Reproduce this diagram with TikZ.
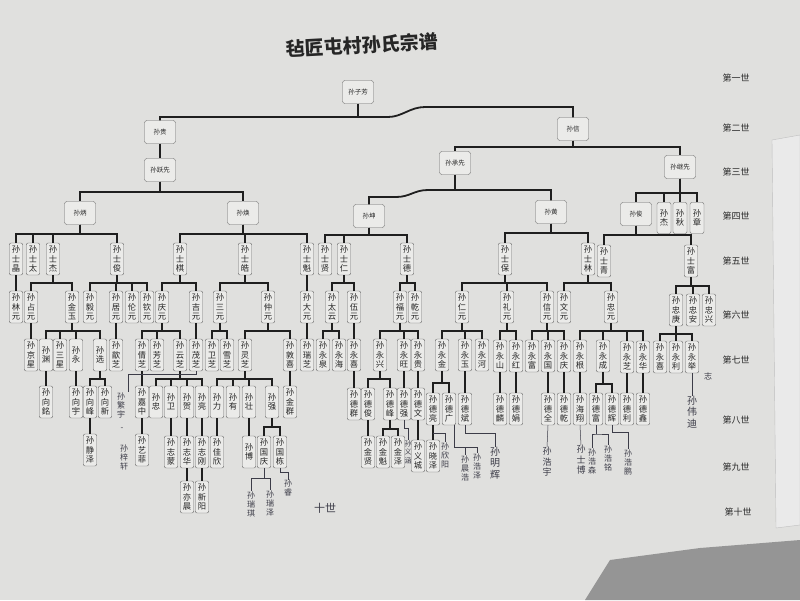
\documentclass[tikz,border=0pt]{standalone}
\usepackage{fontspec}
\newfontfamily\cjk{Noto Sans CJK SC}
\definecolor{paper}{HTML}{E0E0DE}
\definecolor{boxf}{HTML}{EBEBE9}
\definecolor{boxc}{HTML}{6A6A6A}
\definecolor{txt}{HTML}{262626}
\definecolor{penc}{HTML}{3C3C48}
\definecolor{towel}{HTML}{959595}
\definecolor{sheet}{HTML}{EAEAEA}
\tikzset{
 hb/.style={draw=boxc, fill=boxf, rounded corners=2.5pt, minimum width=31pt, minimum height=23pt, inner sep=0pt, font=\cjk\fontsize{6.5}{7}\selectfont, text=txt},
 vb/.style={draw=boxc, fill=boxf, rounded corners=2pt, minimum width=13.5pt, minimum height=32pt, inner sep=0pt, align=center, font=\cjk\fontsize{8.3}{9.4}\selectfont, text=txt},
 vbs/.style={vb, minimum width=14pt, minimum height=31pt},
 ln/.style={line width=1.8pt, draw=black!88},
 gl/.style={font=\cjk\fontsize{9}{10}\selectfont, text=txt, inner sep=0pt},
 pen/.style={draw=penc, line width=0.5pt},
 hw/.style={align=center, inner sep=0pt, font=\cjk\fontsize{8}{9}\selectfont, text=penc},
}
\newcommand\kin[3]{\foreach \ch in {#3}{\draw[ln] (#1.south) -- ++(0,#2) -| (\ch.north);}}
\begin{document}
\begin{tikzpicture}[x=1pt,y=-1pt]
\useasboundingbox (0,0) rectangle (800,600);
\fill[paper] (0,0) rectangle (800,600);
\filldraw[fill=sheet, draw=black!25] (772,140) -- (800,135) -- (800,525) -- (776,528) -- cycle;
\fill[towel] (585,600) -- (610,560) -- (700,548) -- (800,540) -- (800,600) -- cycle;

% title
\node[font=\cjk\bfseries\fontsize{19}{21}\selectfont, rotate=3, text=black!85] (title) at (362,45) {毡匠屯村孙氏宗谱};

% generation labels
\node[gl] (L1) at (736,78) {第一世};
\node[gl] (L2) at (736,128) {第二世};
\node[gl] (L3) at (736,172) {第三世};
\node[gl] (L4) at (736,216) {第四世};
\node[gl] (L5) at (736,261) {第五世};
\node[gl] (L6) at (736,315) {第六世};
\node[gl] (L7) at (736,360) {第七世};
\node[gl] (L8) at (736,420) {第八世};
\node[gl] (L9) at (736,467) {第九世};
\node[gl] (L10) at (738,512) {第十世};

% gen 1-4
\node[hb] (g1) at (358,92) {孙子芳};
\node[hb] (a) at (160,132) {孙贵};
\node[hb] (b) at (573,129) {孙信};
\node[hb] (a1) at (160,170) {孙跃先};
\node[hb] (b1) at (455,163) {孙承先};
\node[hb] (b2) at (680,167) {孙继先};
\node[hb] (a11) at (80,213) {孙炳};
\node[hb] (a12) at (243,213) {孙焕};
\node[hb] (b11) at (369,216) {孙坤};
\node[hb] (b12) at (551,212) {孙黄};
\node[hb] (b21) at (636,214) {孙俊};
\node[vbs] (b22) at (664,218) {孙\\杰};
\node[vbs] (b23) at (680,218) {孙\\秋};
\node[vbs] (b24) at (697,218) {孙\\章};

% gen 5
\node[vb] (s1) at (16,259) {孙\\士\\晶};
\node[vb] (s2) at (33,259) {孙\\士\\太};
\node[vb] (s3) at (53,259) {孙\\士\\杰};
\node[vb] (s4) at (117,259) {孙\\士\\俊};
\node[vb] (s5) at (180,259) {孙\\士\\棋};
\node[vb] (s6) at (245,259) {孙\\士\\皓};
\node[vb] (s7) at (307,259) {孙\\士\\魁};
\node[vb] (s8) at (325,259) {孙\\士\\贤};
\node[vb] (s9) at (344,259) {孙\\士\\仁};
\node[vb] (s10) at (407,259) {孙\\士\\德};
\node[vb] (s11) at (505,259) {孙\\士\\保};
\node[vb] (s12) at (588,259) {孙\\士\\林};
\node[vb] (s13) at (604,261) {孙\\士\\青};
\node[vb] (s14) at (691,261) {孙\\士\\富};

% gen 6
\node[vb] (t1) at (16,307) {孙\\林\\元};
\node[vb] (t2) at (31,307) {孙\\占\\元};
\node[vb] (t3) at (72,307) {孙\\金\\玉};
\node[vb] (t4) at (90,307) {孙\\毅\\元};
\node[vb] (t5) at (116,307) {孙\\居\\元};
\node[vb] (t6) at (132,307) {孙\\伦\\元};
\node[vb] (t7) at (147,307) {孙\\钦\\元};
\node[vb] (t8) at (162,307) {孙\\庆\\元};
\node[vb] (t9) at (196,307) {孙\\吉\\元};
\node[vb] (t10) at (220,307) {孙\\三\\元};
\node[vb] (t11) at (268,307) {孙\\仲\\元};
\node[vb] (t12) at (307,307) {孙\\大\\元};
\node[vb] (t13) at (332,307) {孙\\太\\云};
\node[vb] (t14) at (354,307) {孙\\伍\\元};
\node[vb] (t15) at (400,307) {孙\\福\\元};
\node[vb] (t16) at (415,307) {孙\\乾\\元};
\node[vb] (t17) at (462,307) {孙\\仁\\元};
\node[vb] (t18) at (507,307) {孙\\礼\\元};
\node[vb] (t19) at (547,307) {孙\\信\\元};
\node[vb] (t20) at (564,307) {孙\\文\\元};
\node[vb] (t21) at (611,307) {孙\\忠\\元};
\node[vb] (t22) at (676,310) {孙\\忠\\庚};
\node[vb] (t23) at (693,310) {孙\\忠\\安};
\node[vb] (t24) at (709,310) {孙\\忠\\兴};

% gen 7
\node[vb] (u1) at (31,355) {孙\\京\\星};
\node[vb] (u2) at (46,355) {孙\\渊};
\node[vb] (u3) at (60,355) {孙\\三\\星};
\node[vb] (u4) at (76,355) {孙\\永};
\node[vb] (u5) at (100,355) {孙\\选};
\node[vb] (u6) at (116,355) {孙\\歆\\芝};
\node[vb] (u7) at (142,355) {孙\\倩\\芝};
\node[vb] (u8) at (157,355) {孙\\芳\\芝};
\node[vb] (u9) at (180,355) {孙\\云\\芝};
\node[vb] (u10) at (196,355) {孙\\茂\\芝};
\node[vb] (u11) at (212,355) {孙\\卫\\芝};
\node[vb] (u12) at (227,355) {孙\\雪\\芝};
\node[vb] (u13) at (245,355) {孙\\灵\\芝};
\node[vb] (u14) at (290,355) {孙\\敦\\喜};
\node[vb] (u15) at (307,355) {孙\\瑞\\芝};
\node[vb] (u16) at (323,355) {孙\\永\\泉};
\node[vb] (u17) at (339,355) {孙\\永\\海};
\node[vb] (u18) at (354,355) {孙\\永\\喜};
\node[vb] (u19) at (380,355) {孙\\永\\兴};
\node[vb] (u20) at (404,355) {孙\\永\\旺};
\node[vb] (u21) at (418,355) {孙\\永\\贵};
\node[vb] (u22) at (442,355) {孙\\永\\金};
\node[vb] (u23) at (465,355) {孙\\永\\玉};
\node[vb] (u24) at (482,355) {孙\\永\\河};
\node[vb] (u25) at (500,356) {孙\\永\\山};
\node[vb] (u26) at (516,356) {孙\\永\\红};
\node[vb] (u27) at (532,356) {孙\\永\\富};
\node[vb] (u28) at (548,356) {孙\\永\\国};
\node[vb] (u29) at (564,356) {孙\\永\\庆};
\node[vb] (u30) at (580,356) {孙\\永\\根};
\node[vb] (u31) at (603,356) {孙\\永\\成};
\node[vb] (u32) at (627,357) {孙\\永\\芝};
\node[vb] (u33) at (643,357) {孙\\永\\华};
\node[vb] (u34) at (660,357) {孙\\永\\喜};
\node[vb] (u35) at (676,357) {孙\\永\\利};
\node[vb] (u36) at (692,357) {孙\\永\\举};

% gen 8
\node[vb] (v1) at (46,402) {孙\\向\\銘};
\node[vb] (v2) at (76,402) {孙\\向\\宇};
\node[vb] (v3) at (90,402) {孙\\向\\峰};
\node[vb] (v4) at (105,402) {孙\\向\\新};
\node[vb] (v5) at (142,402) {孙\\嘉\\中};
\node[vb] (v6) at (156,402) {孙\\忠};
\node[vb] (v7) at (171,402) {孙\\卫};
\node[vb] (v8) at (187,402) {孙\\贺};
\node[vb] (v9) at (202,402) {孙\\亮};
\node[vb] (v10) at (217,402) {孙\\力};
\node[vb] (v11) at (233,402) {孙\\有};
\node[vb] (v12) at (249,402) {孙\\壮};
\node[vb] (v13) at (272,402) {孙\\强};
\node[vb] (v14) at (290,402) {孙\\金\\群};
\node[vb] (v15) at (354,404) {孙\\德\\群};
\node[vb] (v16) at (368,404) {孙\\德\\俊};
\node[vb] (v17) at (390,404) {孙\\德\\峰};
\node[vb] (v18) at (404,404) {孙\\德\\强};
\node[vb] (v19) at (418,404) {孙\\德\\文};
\node[vb] (v20) at (433,409) {孙\\德\\亮};
\node[vb] (v21) at (449,409) {孙\\德\\广};
\node[vb] (v22) at (465,409) {孙\\德\\斌};
\node[vb] (v23) at (500,409) {孙\\德\\麟};
\node[vb] (v24) at (516,409) {孙\\德\\娟};
\node[vb] (v25) at (548,409) {孙\\德\\全};
\node[vb] (v26) at (564,409) {孙\\德\\乾};
\node[vb] (v27) at (580,409) {孙\\海\\翔};
\node[vb] (v28) at (596,409) {孙\\德\\富};
\node[vb] (v29) at (612,409) {孙\\德\\辉};
\node[vb] (v30) at (627,409) {孙\\德\\利};
\node[vb] (v31) at (643,409) {孙\\德\\鑫};

% gen 9
\node[vb] (w1) at (90,450) {孙\\静\\泽};
\node[vb] (w2) at (142,450) {孙\\艺\\菲};
\node[vb] (w3) at (171,452) {孙\\志\\蒙};
\node[vb] (w4) at (187,452) {孙\\志\\华};
\node[vb] (w5) at (202,452) {孙\\志\\刚};
\node[vb] (w6) at (217,452) {孙\\佳\\欣};
\node[vb] (w7) at (249,452) {孙\\博};
\node[vb] (w8) at (264,452) {孙\\国\\庆};
\node[vb] (w9) at (280,452) {孙\\国\\栋};
\node[vb] (w10) at (368,452) {孙\\金\\贤};
\node[vb] (w11) at (383,452) {孙\\金\\魁};
\node[vb] (w12) at (398,452) {孙\\金\\泽};
\node[vb] (w13) at (418,456) {孙\\义\\城};
\node[vb] (w14) at (433,456) {孙\\晓\\泽};

% gen 10
\node[vb] (x1) at (187,497) {孙\\亦\\晨};
\node[vb] (x2) at (202,497) {孙\\新\\阳};

% connectors gen 1-4
\coordinate (j1) at (358,117);
\coordinate (k1) at (388,117);
\coordinate (k2) at (425,107);
\draw[ln] (g1.south) -- (j1);
\draw[ln] (a.north) |- (j1) -- (k1) .. controls (402,117) and (410,107) .. (k2) -| (b.north);
\draw[ln] (a.south) -- (a1.north);
\kin{b}{6}{b1,b2}
\kin{a1}{10}{a11,a12}
\coordinate (m0) at (455,190);
\coordinate (m1) at (396,197);
\coordinate (m2) at (428,190);
\draw[ln] (b1.south) -- (m0);
\draw[ln] (b11.north) |- (m1) .. controls (410,197) and (414,190) .. (m2) -| (b12.north);
\kin{b2}{14}{b21,b22,b23,b24}

% gen 4-5
\kin{a11}{9.5}{s1,s2,s3,s4}
\kin{a12}{9.5}{s5,s6,s7}
\kin{b11}{7.5}{s8,s9,s10}
\kin{b12}{9.5}{s11,s12}
\kin{b21}{9.5}{s13,s14}

% gen 5-6
\kin{s1}{8}{t1}
\kin{s3}{8}{t2,t3}
\kin{s4}{8}{t4,t5,t6,t7}
\kin{s5}{8}{t8,t9}
\kin{s6}{8}{t10,t11}
\kin{s7}{8}{t12}
\kin{s9}{8}{t13,t14}
\kin{s10}{8}{t15,t16}
\kin{s11}{8}{t17,t18,t19}
\kin{s12}{8}{t20,t21}
\kin{s14}{9}{t22,t23,t24}

% gen 6-7
\kin{t2}{8}{u1}
\kin{t3}{8}{u2,u3,u4,u5}
\kin{t5}{8}{u6}
\kin{t8}{8}{u7,u8,u9}
\kin{t9}{8}{u10}
\kin{t10}{8}{u11,u12}
\kin{t11}{8}{u13,u14}
\kin{t12}{8}{u15}
\kin{t13}{8}{u16,u17}
\kin{t14}{8}{u18}
\kin{t15}{8}{u19,u20,u21}
\kin{t17}{8}{u22,u23,u24}
\kin{t18}{8}{u25,u26}
\kin{t19}{8}{u27,u28,u29}
\kin{t21}{8}{u30,u31,u32,u33}
\kin{t22}{8}{u34,u35,u36}

% gen 7-8
\kin{u2}{8}{v1}
\kin{u4}{8}{v2}
\kin{u5}{8}{v3,v4}
\kin{u7}{8}{v5}
\kin{u9}{8}{v6,v7,v8,v9}
\kin{u13}{8}{v10,v11,v12,v13}
\kin{u14}{8}{v14}
\kin{u18}{8}{v15}
\kin{u19}{8}{v16,v17}
\kin{u20}{8}{v18}
\kin{u21}{8}{v19}
\kin{u22}{12}{v20,v21}
\kin{u23}{8}{v22}
\kin{u25}{8}{v23}
\kin{u26}{8}{v24}
\kin{u28}{8}{v25}
\kin{u29}{8}{v26}
\kin{u30}{8}{v27}
\kin{u31}{12}{v28,v29}
\kin{u32}{8}{v30}
\kin{u33}{8}{v31}

% gen 8-9
\kin{v3}{8}{w1}
\kin{v5}{8}{w2}
\kin{v7}{8}{w3}
\kin{v8}{8}{w4}
\kin{v9}{8}{w5}
\kin{v10}{8}{w6}
\kin{v12}{8}{w7}
\kin{v13}{9}{w8,w9}
\kin{v16}{8}{w10}
\kin{v17}{9}{w11,w12}
\kin{v19}{8}{w13}
\kin{v20}{8}{w14}

% gen 9-10
\kin{w4}{8}{x1}
\kin{w5}{8}{x2}

% handwritten notes
\node[hw] (n1a) at (121,405) {孙\\繁\\宇};
\node[hw] (n1b) at (122,429) {-};
\node[hw] (n1c) at (124,457) {孙\\梓\\轩};
\coordinate (h1) at (128,374);
\draw[pen] (u10.south) |- (h1) -- (n1a.north -| h1);

\node[hw] (n2a) at (251,504) {孙\\瑞\\琪};
\node[hw] (n2b) at (270,503) {孙\\瑞\\泽};
\node[hw] (n2c) at (288,488) {孙\\睿};
\draw[pen] (w8.south) -- ++(0,10) coordinate (h2);
\draw[pen] (n2a.north) |- (h2) -| (n2b.north);
\draw[pen] (w9.south) -- ++(0,4) -| (n2c.north);
\node[hw, font=\cjk\fontsize{11}{12}\selectfont] (ten) at (325,508) {十世};

\node[hw, font=\cjk\fontsize{7}{8.5}\selectfont] (n3) at (408,452) {孙\\义\\涵};
\draw[pen] (v18.south) -- ++(0,8) -| (n3.north);
\node[hw] (n4) at (445,455) {孙\\欣\\阳};
\draw[pen] (v20.south) ++(0,8) -| (n4.north);
\node[hw] (n5) at (465,468) {孙\\晨\\浩};
\node[hw] (n6) at (477,466) {孙\\浩\\泽};
\coordinate (p5) at (454,447);
\draw[pen] (v21.south -| p5) -- (p5) -| (n6.north);
\draw[pen] (p5 -| n5.north) -- (n5.north);
\node[hw, font=\cjk\fontsize{10}{11.5}\selectfont] (n7) at (495,463) {孙\\明\\辉};
\draw[pen] (v22.south) -- ++(0,8) -| (n7.north);
\node[hw, font=\cjk\fontsize{9}{10.5}\selectfont] (n8) at (547,462) {孙\\浩\\宇};
\draw[pen] (v25.south) -- (n8.north);
\node[hw, font=\cjk\fontsize{9}{10.5}\selectfont] (n9) at (581,460) {孙\\士\\博};
\draw[pen] (v27.south) -- (n9.north);
\node[hw] (n10) at (592,461) {孙\\浩\\森};
\node[hw] (n11) at (608,458) {孙\\浩\\铭};
\coordinate (p10) at (596,434);
\draw[pen] (v28.south) -- (p10);
\draw[pen] (n10.north) |- (p10) -| (n11.north);
\node[hw] (n12) at (628,462) {孙\\浩\\鹏};
\draw[pen] (v29.south) -- ++(0,7) -| (n12.north);
\node[hw, font=\cjk\fontsize{10}{11.5}\selectfont] (n13) at (692,412) {孙\\伟\\迪};
\draw[pen] (u36.south) -- (n13.north);
\node[hw] (n14) at (708,376) {志};
\end{tikzpicture}
\end{document}
